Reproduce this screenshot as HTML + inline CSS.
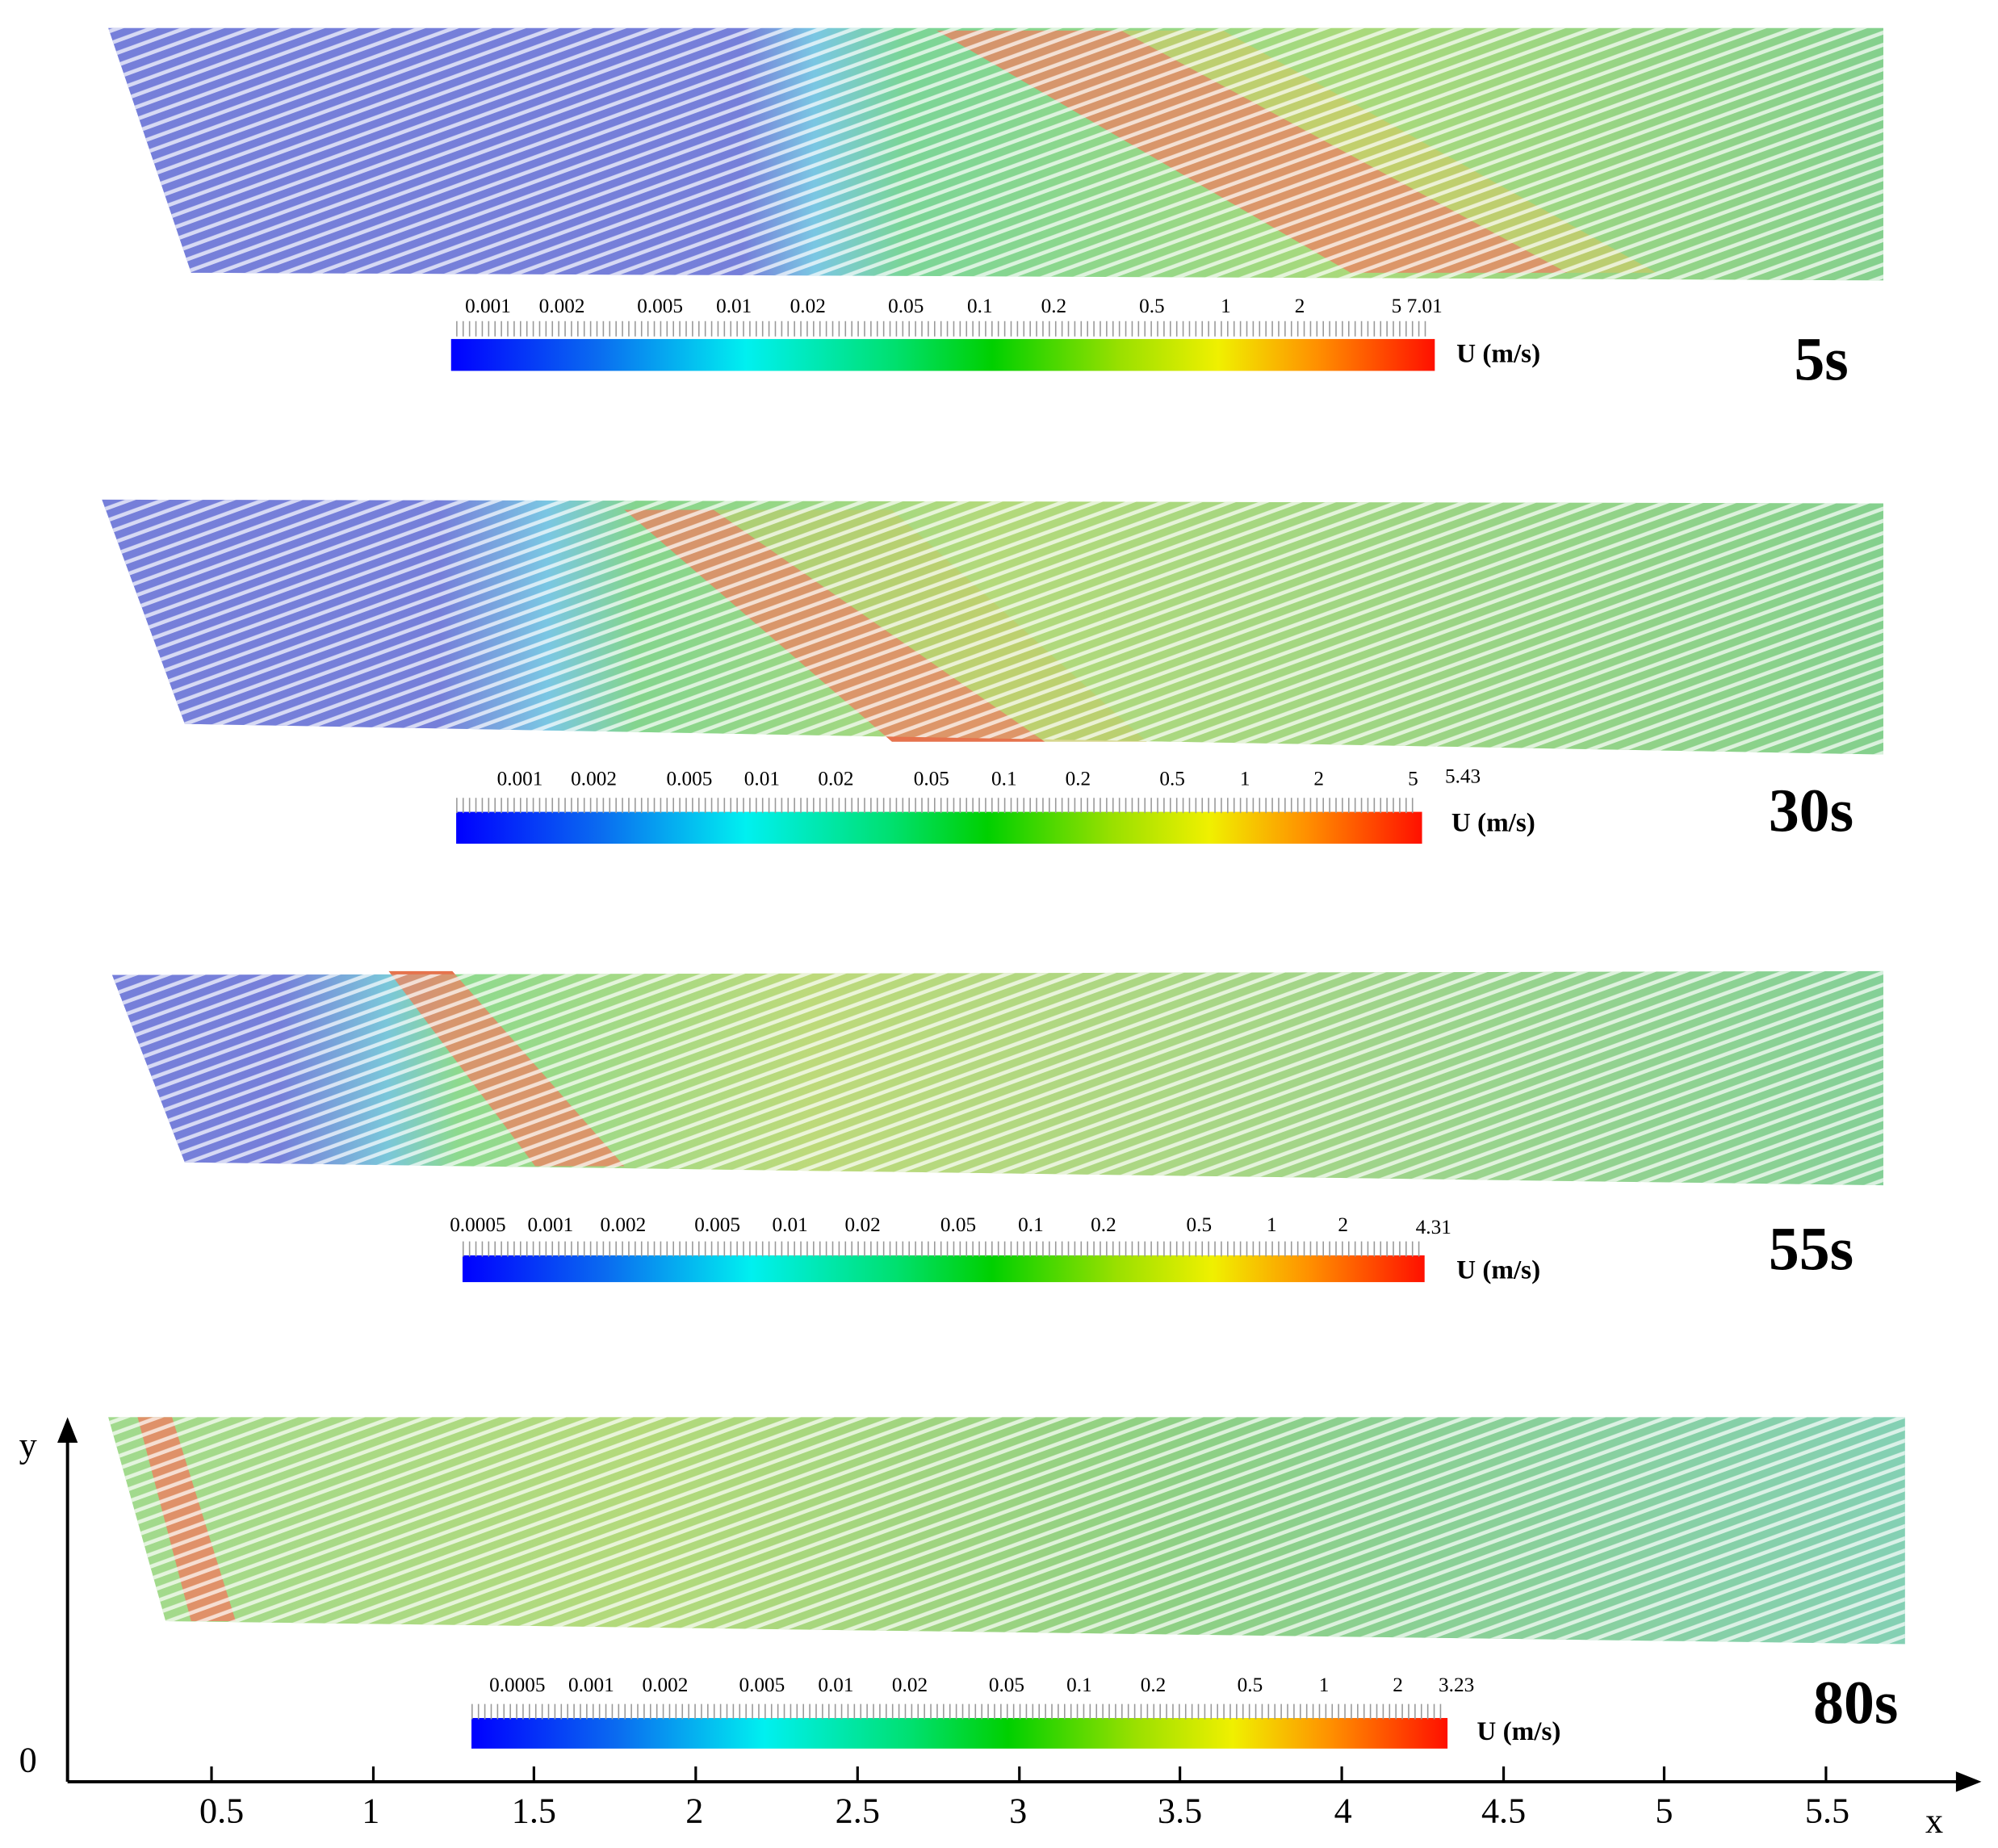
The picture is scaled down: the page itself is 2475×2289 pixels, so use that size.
<!DOCTYPE html>
<html><head><meta charset="utf-8"><style>
html,body{margin:0;padding:0;background:#fff;}
svg{display:block;}
text{font-family:"Liberation Serif",serif;}
</style></head><body>
<svg width="2475" height="2289" viewBox="0 0 1568 1450" preserveAspectRatio="none" xmlns="http://www.w3.org/2000/svg">
<defs>
<linearGradient id="jet" x1="0" x2="1" y1="0" y2="0">
<stop offset="0" stop-color="#0000ff"/><stop offset="0.15" stop-color="#0a6cf0"/>
<stop offset="0.3" stop-color="#00f0f0"/><stop offset="0.45" stop-color="#00e070"/>
<stop offset="0.55" stop-color="#00d000"/><stop offset="0.68" stop-color="#9ae000"/>
<stop offset="0.78" stop-color="#f0f000"/><stop offset="0.88" stop-color="#ff9000"/>
<stop offset="1" stop-color="#ff1000"/></linearGradient>
<linearGradient id="g1" x1="80" x2="1478" gradientUnits="userSpaceOnUse">
<stop offset="0" stop-color="#1828c0"/><stop offset="0.36" stop-color="#1828c0"/>
<stop offset="0.4" stop-color="#20a0d0"/><stop offset="0.45" stop-color="#20b850"/>
<stop offset="0.7" stop-color="#70c020"/><stop offset="1" stop-color="#30b040"/></linearGradient>
<linearGradient id="g2" x1="80" x2="1478" gradientUnits="userSpaceOnUse">
<stop offset="0" stop-color="#1828c0"/><stop offset="0.19" stop-color="#1828c0"/>
<stop offset="0.25" stop-color="#20a0d0"/><stop offset="0.3" stop-color="#30b840"/>
<stop offset="0.5" stop-color="#80c020"/><stop offset="1" stop-color="#30b040"/></linearGradient>
<linearGradient id="g3" x1="80" x2="1478" gradientUnits="userSpaceOnUse">
<stop offset="0" stop-color="#1828c0"/><stop offset="0.1" stop-color="#1828c0"/>
<stop offset="0.16" stop-color="#20a0c0"/><stop offset="0.2" stop-color="#40c040"/>
<stop offset="0.4" stop-color="#90c020"/><stop offset="1" stop-color="#30b050"/></linearGradient>
<linearGradient id="g4" x1="80" x2="1495" gradientUnits="userSpaceOnUse">
<stop offset="0" stop-color="#60c040"/><stop offset="0.3" stop-color="#80c020"/>
<stop offset="0.6" stop-color="#40b030"/><stop offset="1" stop-color="#30b080"/></linearGradient>
<pattern id="tex" width="14" height="9" patternUnits="userSpaceOnUse" patternTransform="rotate(-20)">
<rect width="14" height="9" fill="#fff" fill-opacity="0.3"/>
<rect x="0" y="6" width="14" height="3" fill="#fff" fill-opacity="0.7"/>
</pattern>
</defs>

<polygon points="85,22 1478,22 1478,220 150,214" fill="url(#g1)" fill-opacity="0.85"/>
<polygon points="735,24 880,24 1230,214 1060,214" fill="#e05020" fill-opacity="0.8"/>
<polygon points="880,24 960,24 1300,214 1230,214" fill="#c0b020" fill-opacity="0.6"/>
<polygon points="85,22 1478,22 1478,220 150,214" fill="url(#tex)"/>

<polygon points="80,392 1478,395 1478,592 145,568" fill="url(#g2)" fill-opacity="0.85"/>
<polygon points="490,400 560,400 820,582 700,582" fill="#e05020" fill-opacity="0.8"/>
<polygon points="560,400 700,400 900,582 820,582" fill="#b0b020" fill-opacity="0.5"/>
<polygon points="80,392 1478,395 1478,592 145,568" fill="url(#tex)"/>

<polygon points="88,765 1478,762 1478,930 145,912" fill="url(#g3)" fill-opacity="0.85"/>
<polygon points="305,762 355,762 490,915 420,915" fill="#e05020" fill-opacity="0.8"/>
<polygon points="88,765 1478,762 1478,930 145,912" fill="url(#tex)"/>

<polygon points="85,1112 1495,1112 1495,1290 130,1272" fill="url(#g4)" fill-opacity="0.85"/>
<polygon points="108,1112 135,1112 185,1272 150,1272" fill="#e05020" fill-opacity="0.85"/>
<polygon points="85,1112 1495,1112 1495,1290 130,1272" fill="url(#tex)"/>

<g font-size="16" text-anchor="middle">
<rect x="354" y="266" width="772" height="25" fill="url(#jet)"/>
<g stroke="#999"><path d="M358 258 H1120" stroke-dasharray="1 4" stroke-width="12"/></g>
<text x="383" y="245">0.001</text><text x="441" y="245">0.002</text><text x="518" y="245">0.005</text><text x="576" y="245">0.01</text><text x="634" y="245">0.02</text><text x="711" y="245">0.05</text><text x="769" y="245">0.1</text><text x="827" y="245">0.2</text><text x="904" y="245">0.5</text><text x="962" y="245">1</text><text x="1020" y="245">2</text><text x="1112" y="245">5 7.01</text>

<rect x="358" y="637" width="758" height="25" fill="url(#jet)"/>
<g stroke="#999"><path d="M358 632 H1112" stroke-dasharray="1 4" stroke-width="12"/></g>
<text x="408" y="616">0.001</text><text x="466" y="616">0.002</text><text x="541" y="616">0.005</text><text x="598" y="616">0.01</text><text x="656" y="616">0.02</text><text x="731" y="616">0.05</text><text x="788" y="616">0.1</text><text x="846" y="616">0.2</text><text x="920" y="616">0.5</text><text x="977" y="616">1</text><text x="1035" y="616">2</text><text x="1109" y="616">5</text><text x="1148" y="614">5.43</text>

<rect x="363" y="985" width="755" height="21" fill="url(#jet)"/>
<g stroke="#999"><path d="M363 980 H1115" stroke-dasharray="1 4" stroke-width="12"/></g>
<text x="375" y="966">0.0005</text><text x="432" y="966">0.001</text><text x="489" y="966">0.002</text><text x="563" y="966">0.005</text><text x="620" y="966">0.01</text><text x="677" y="966">0.02</text><text x="752" y="966">0.05</text><text x="809" y="966">0.1</text><text x="866" y="966">0.2</text><text x="941" y="966">0.5</text><text x="998" y="966">1</text><text x="1054" y="966">2</text><text x="1125" y="968">4.31</text>

<rect x="370" y="1348" width="766" height="24" fill="url(#jet)"/>
<g stroke="#999"><path d="M370 1343 H1132" stroke-dasharray="1 4" stroke-width="12"/></g>
<text x="406" y="1327">0.0005</text><text x="464" y="1327">0.001</text><text x="522" y="1327">0.002</text><text x="598" y="1327">0.005</text><text x="656" y="1327">0.01</text><text x="714" y="1327">0.02</text><text x="790" y="1327">0.05</text><text x="847" y="1327">0.1</text><text x="905" y="1327">0.2</text><text x="981" y="1327">0.5</text><text x="1039" y="1327">1</text><text x="1097" y="1327">2</text><text x="1143" y="1327">3.23</text>
</g>
<g font-size="21" font-weight="bold">
<text x="1143" y="284">U (m/s)</text><text x="1139" y="652">U (m/s)</text><text x="1143" y="1003">U (m/s)</text><text x="1159" y="1365">U (m/s)</text>
</g>
<g font-size="48" font-weight="bold">
<text x="1408" y="298">5s</text><text x="1388" y="652">30s</text><text x="1388" y="996">55s</text><text x="1423" y="1352">80s</text>
</g>

<g stroke="#000" stroke-width="2.5" fill="none">
<path d="M53 1398 V1125"/><path d="M53 1398 H1540"/>
</g>
<polygon points="53,1112 45,1132 61,1132" fill="#000"/>
<polygon points="1555,1398 1535,1390 1535,1406" fill="#000"/>
<g stroke="#000" stroke-width="2">
<path d="M166 1398v-12M293 1398v-12M419 1398v-12M546 1398v-12M673 1398v-12M800 1398v-12M926 1398v-12M1053 1398v-12M1180 1398v-12M1306 1398v-12M1433 1398v-12"/>
</g>
<g font-size="28" text-anchor="middle">
<text x="174" y="1430">0.5</text><text x="291" y="1430">1</text><text x="419" y="1430">1.5</text><text x="545" y="1430">2</text><text x="673" y="1430">2.5</text><text x="799" y="1430">3</text><text x="926" y="1430">3.5</text><text x="1054" y="1430">4</text><text x="1180" y="1430">4.5</text><text x="1306" y="1430">5</text><text x="1434" y="1430">5.5</text>
<text x="1518" y="1438">x</text><text x="22" y="1143">y</text><text x="22" y="1390">0</text>
</g>
</svg>
</body></html>
